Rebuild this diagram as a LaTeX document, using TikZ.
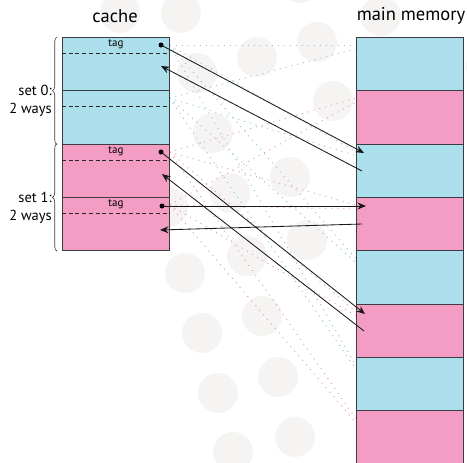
\documentclass[tikz,border=0pt]{standalone}
\usepackage{fontspec}
\setmainfont{PT Sans}
\usetikzlibrary{arrows.meta,decorations.pathreplacing,calc}
\definecolor{cblue}{RGB}{172,223,236}
\definecolor{cpink}{RGB}{244,157,196}
\definecolor{dblue}{RGB}{145,198,214}
\definecolor{dpink}{RGB}{226,158,184}
\definecolor{bgcirc}{RGB}{245,244,243}
\definecolor{edge}{RGB}{60,60,64}
\tikzset{
  blk/.style={draw=edge, line width=0.9pt, minimum width=107pt, minimum height=53.3pt, inner sep=0pt, anchor=north west},
  bblk/.style={blk, fill=cblue},
  pblk/.style={blk, fill=cpink},
  tagline/.style={draw=black!85, line width=0.8pt, dash pattern=on 4pt off 2.7pt},
  mapb/.style={draw=dblue, line width=1pt, dash pattern=on 1pt off 5pt},
  mapp/.style={draw=dpink, line width=1pt, dash pattern=on 1pt off 5pt},
  acc/.style={draw=black!90, line width=0.85pt, -{Stealth[length=8.5pt,width=7pt]}},
  dotmark/.style={circle, fill=black, inner sep=0pt, minimum size=5pt},
  title/.style={font=\fontsize{18.5}{20}\selectfont, inner sep=0pt},
  setlbl/.style={font=\fontsize{14.5}{18}\selectfont, align=right, anchor=east, inner sep=0pt},
  taglbl/.style={font=\fontsize{11}{12}\selectfont, inner sep=0pt},
  setbrace/.style={draw=edge, line width=0.6pt, decorate, decoration={brace, amplitude=4.5pt}}
}
\begin{document}
\begin{tikzpicture}[x=1pt,y=-1pt]
\useasboundingbox (0,0) rectangle (467,463);
\clip (0,0) rectangle (467,463);
% background circles
\foreach \cx/\cy in {120/13,181/13,257/57,317/42,197/73,333/101,213/133,290/177,230/193,168/207,307/240,247/256,185/273,262/316,202/333,278/377,218/393,295/437,233/452,300/-17,381/16,486/66}
  \fill[bgcirc] (\cx,\cy) circle (20);
% titles
\node[title] (tcache) at (115,16) {cache};
\node[title] (tmem) at (411,16) {main memory};
% mapping source points on cache edge
\coordinate (s00) at (169.5,45);
\coordinate (s01) at (169.5,98);
\coordinate (s10) at (169.5,152);
\coordinate (s11) at (169.5,205);
% mapping target points on memory edge
\foreach \m/\t in {1/37,2/90.3,3/143.6,4/196.9,5/250.2,6/303.5,7/356.8,8/410.1}{
  \coordinate (e\m a) at (355.5,\t+8);
  \coordinate (e\m b) at (355.5,\t+12);
}
\foreach \m in {1,3,5,7}{
  \draw[mapb] (s00) -- (e\m a);
  \draw[mapb] (s01) -- (e\m b);
}
\foreach \m in {2,4,6,8}{
  \draw[mapp] (s10) -- (e\m a);
  \draw[mapp] (s11) -- (e\m b);
}
% cache ways
\node[bblk] (c00) at (62,37) {};
\node[bblk] (c01) at (62,90.3) {};
\node[pblk] (c10) at (62,143.6) {};
\node[pblk] (c11) at (62,196.9) {};
% memory blocks
\node[bblk] (m1) at (356,37) {};
\node[pblk] (m2) at (356,90.3) {};
\node[bblk] (m3) at (356,143.6) {};
\node[pblk] (m4) at (356,196.9) {};
\node[bblk] (m5) at (356,250.2) {};
\node[pblk] (m6) at (356,303.5) {};
\node[bblk] (m7) at (356,356.8) {};
\node[pblk] (m8) at (356,410.1) {};
% tag separators
\draw[tagline] (c00.west |- 0,53.3) -- (c00.east |- 0,53.3);
\draw[tagline] (c01.west |- 0,106.6) -- (c01.east |- 0,106.6);
\draw[tagline] (c10.west |- 0,160) -- (c10.east |- 0,160);
\draw[tagline] (c11.west |- 0,213.2) -- (c11.east |- 0,213.2);
% tag labels
\node[taglbl] (tg00) at (116,44.5) {tag};
\node[taglbl] (tg10) at (116,151) {tag};
\node[taglbl] (tg11) at (116,204.5) {tag};
% set labels and braces
\node[setlbl] (l0) at (52,101) {set 0:\\2 ways};
\node[setlbl] (l1) at (52,207.5) {set 1:\\2 ways};
\draw[setbrace] (c01.south west -| 57,0) -- (c00.north west -| 57,0);
\draw[setbrace] (c11.south west -| 57,0) -- (c10.north west -| 57,0);
% dots (sources of stores)
\node[dotmark] (d00) at (161,45) {};
\node[dotmark] (d10) at (161,152) {};
\node[dotmark] (d11) at (162,206) {};
% arrow end coordinates
\coordinate (t1) at (364,153);
\coordinate (f2) at (362,171);
\coordinate (t2) at (161,66);
\coordinate (t3) at (365,314);
\coordinate (f4) at (364,331);
\coordinate (t4) at (162,174);
\coordinate (t5) at (366,206);
\coordinate (f6) at (362,224);
\coordinate (t6) at (160,230);
% arrows
\draw[acc] (d00.center) -- (t1);
\draw[acc] (f2) -- (t2);
\draw[acc] (d10.center) -- (t3);
\draw[acc] (f4) -- (t4);
\draw[acc] (d11.center) -- (t5);
\draw[acc] (f6) -- (t6);
\end{tikzpicture}
\end{document}
